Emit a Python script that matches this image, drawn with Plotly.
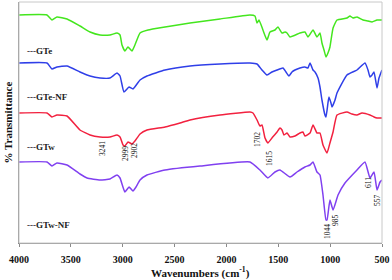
import plotly.graph_objects as go

# GTe (green)
gte_wn = [4000, 3730, 3682, 3634, 3537, 3412, 3315, 3219, 3123, 3055, 3026, 3007, 2979, 2949, 2910, 2882,
          2833, 2756, 2592, 2351, 2062, 1773, 1725, 1705, 1686, 1648, 1609, 1580, 1532, 1503, 1464, 1435,
          1416, 1387, 1291, 1243, 1214, 1165, 1127, 1098, 1079, 1059, 1040, 1021, 1002, 972, 934, 838,
          809, 780, 741, 683, 635, 596, 548, 500]
gte_t = [228, 228, 223, 226, 224, 217, 211, 208, 208, 210, 208, 198, 192, 196, 192, 198,
         210, 213, 216, 220, 224, 228, 227, 220, 223, 213, 203, 211, 213, 216, 210, 211,
         210, 206, 210, 211, 206, 213, 206, 210, 200, 193, 186, 190, 196, 215, 223, 225,
         227, 225, 226, 223, 222, 221, 223, 223]

# GTe-NF (blue)
gtenf_wn = [4000, 3730, 3682, 3634, 3537, 3412, 3315, 3219, 3123, 3055, 3026, 2988, 2939, 2901, 2833, 2766,
            2592, 2351, 2062, 1773, 1705, 1657, 1609, 1561, 1512, 1455, 1426, 1397, 1368, 1339, 1291, 1243,
            1214, 1194, 1165, 1146, 1117, 1098, 1079, 1050, 1040, 1021, 1011, 992, 982, 953, 934, 838,
            741, 664, 635, 616, 596, 577, 548, 529, 500]
gtenf_t = [180, 180, 174, 176, 177, 171, 167, 165, 165, 170, 167, 151, 156, 154, 163, 167,
           173, 177, 179, 180, 179, 173, 168, 171, 173, 175, 171, 167, 171, 173, 175, 176,
           175, 180, 173, 171, 165, 156, 143, 128, 126, 140, 146, 140, 136, 143, 150, 168,
           173, 180, 173, 166, 168, 171, 155, 165, 173]

# GTw (red)
gtw_wn = [4000, 3730, 3682, 3634, 3537, 3412, 3315, 3219, 3123, 3055, 3026, 2997, 2979, 2949, 2910, 2882,
          2833, 2766, 2592, 2447, 2351, 2062, 1773, 1744, 1705, 1677, 1657, 1628, 1600, 1561, 1512, 1484,
          1464, 1445, 1416, 1387, 1339, 1291, 1262, 1243, 1194, 1165, 1127, 1098, 1069, 1030, 1002, 972,
          934, 838, 790, 741, 693, 616, 577, 548, 500]
gtw_t = [130, 130, 126, 128, 127, 113, 108, 106, 106, 108, 106, 98, 97, 101, 99, 102,
         109, 113, 116, 120, 123, 128, 131, 130, 123, 117, 118, 105, 100, 105, 111, 115,
         113, 108, 110, 106, 107, 110, 111, 107, 110, 118, 110, 110, 98, 90, 100, 111,
         128, 131, 129, 128, 130, 128, 126, 125, 125]

# GTw-NF (purple)
gtwnf_wn = [4000, 3730, 3682, 3634, 3537, 3412, 3344, 3219, 3123, 3055, 3026, 2979, 2939, 2901, 2872, 2833,
            2766, 2592, 2255, 1773, 1677, 1600, 1532, 1484, 1387, 1320, 1243, 1194, 1165, 1127, 1098, 1069,
            1040, 1030, 1002, 972, 924, 857, 741, 664, 616, 577, 548, 519, 500]
gtwnf_t = [81, 81, 77, 80, 78, 69, 65, 63, 64, 68, 65, 51, 56, 52, 56, 63,
           68, 73, 77, 81, 73, 65, 71, 73, 66, 71, 76, 78, 81, 71, 68, 48,
           23, 23, 43, 33, 48, 60, 73, 81, 65, 71, 53, 61, 63]

series_names = ["---GTe", "---GTe-NF", "---GTw", "---GTw-NF"]
series_colors = ["#44e61e", "#2f3fe8", "#f2213f", "#8040f0"]
label_y = [192, 146, 96, 18]

peak_labels = ["3241", "2999", "2902", "1702", "1615", "1044", "985", "611", "557"]
peak_x = [3200, 2979, 2892, 1705, 1590, 1030, 953, 635, 548]
peak_y = [95, 90, 93, 103, 85, 11, 23, 60, 43]

x_ticks = [4000, 3500, 3000, 2500, 2000, 1500, 1000, 500]

fig = go.Figure()
for wn, t, c in zip([gte_wn, gtenf_wn, gtw_wn, gtwnf_wn], [gte_t, gtenf_t, gtw_t, gtwnf_t], series_colors):
    fig.add_trace(go.Scatter(x=wn, y=t, mode="lines", line=dict(color=c, width=1.5, shape="spline", smoothing=0.4),
                             showlegend=False, hoverinfo="skip"))

serif = "Liberation Serif"
for name, ly in zip(series_names, label_y):
    fig.add_annotation(x=3945, y=ly, text="<b>" + name + "</b>", showarrow=False, xanchor="left", yanchor="middle",
                       font=dict(family=serif, size=9, color="#222"))

for txt, px, py in zip(peak_labels, peak_x, peak_y):
    fig.add_annotation(x=px, y=py, text=txt, showarrow=False, textangle=-90, xanchor="center", yanchor="middle",
                       font=dict(family=serif, size=7.5, color="#111"))

fig.add_annotation(xref="paper", yref="paper", x=-0.033, y=0.5, text="<b>% Transmittance</b>", showarrow=False,
                   textangle=-90, xanchor="center", yanchor="middle", font=dict(family=serif, size=11, color="#111"))
fig.add_annotation(xref="paper", yref="paper", x=0.5, y=-0.124, text="<b>Wavenumbers (cm<sup>-1</sup>)</b>",
                   showarrow=False, xanchor="center", yanchor="middle", font=dict(family=serif, size=11, color="#111"))

fig.add_shape(type="rect", xref="paper", yref="paper", x0=0, y0=0, x1=1, y1=1,
              line=dict(color="#c8c8c8", width=1))

fig.update_xaxes(range=[4000, 500], tickvals=x_ticks, ticktext=["<b>%d</b>" % v for v in x_ticks],
                 showgrid=False, zeroline=False, showline=True, linecolor="#8a8a8a", linewidth=1,
                 ticks="outside", ticklen=3, tickcolor="#8a8a8a", ticklabelstandoff=4,
                 tickfont=dict(family=serif, size=10, color="#111"))
fig.update_yaxes(range=[0, 241], showticklabels=False, showgrid=False, zeroline=False, showline=True,
                 linecolor="#8a8a8a", linewidth=1, ticks="")

fig.update_layout(width=392, height=280, margin=dict(l=19, r=10, t=2, b=37),
                  paper_bgcolor="white", plot_bgcolor="white")
fig.write_html("out.html", config={"displayModeBar": False},
               post_script="document.body.style.margin='0';document.body.style.overflow='hidden';")
